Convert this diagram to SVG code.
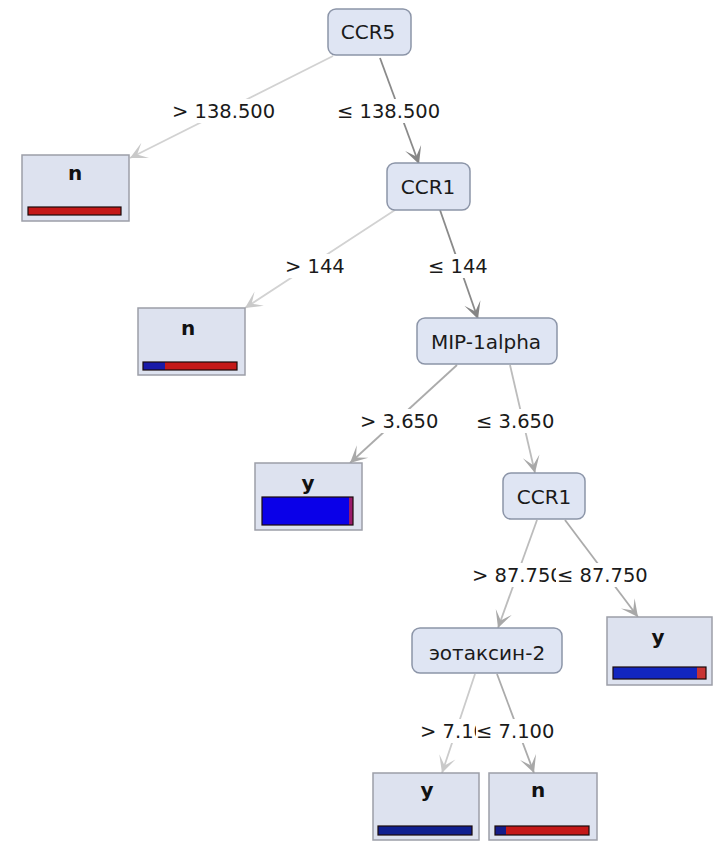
<svg xmlns="http://www.w3.org/2000/svg" width="716" height="841" viewBox="0 0 716 841">
<style>
.node rect{fill:#dfe5f3;stroke:#8c95a8;stroke-width:1.5}
.leaf .box{fill:#dde2ef;stroke:#9c9ea8;stroke-width:1.5}
.nt{font-family:"DejaVu Sans",sans-serif;font-size:20px;fill:#1a1a1a;text-anchor:middle}
.lt{font-family:"DejaVu Sans",sans-serif;font-size:20px;font-weight:bold;fill:#111;text-anchor:middle}
.el{font-family:"DejaVu Sans",sans-serif;font-size:19.5px;fill:#1a1a1a}
.lbg{fill:#ffffff}
.e{fill:none;stroke-width:1.8}
.bar{stroke:#1a0a0a;stroke-width:1.2}
</style>
<defs>
<marker id="aL" viewBox="-19 -10 21 20" markerWidth="21" markerHeight="20" refX="0" refY="0" orient="auto" markerUnits="userSpaceOnUse"><path d="M-17,-8.5 L0,0 L-17,8.5 L-8,0 z" fill="#c9c9c9"/></marker>
<marker id="aM" viewBox="-19 -10 21 20" markerWidth="21" markerHeight="20" refX="0" refY="0" orient="auto" markerUnits="userSpaceOnUse"><path d="M-17,-8.5 L0,0 L-17,8.5 L-8,0 z" fill="#a8a8a8"/></marker>
<marker id="aD" viewBox="-19 -10 21 20" markerWidth="21" markerHeight="20" refX="0" refY="0" orient="auto" markerUnits="userSpaceOnUse"><path d="M-17,-8.5 L0,0 L-17,8.5 L-8,0 z" fill="#858585"/></marker>
</defs>
<rect width="716" height="841" fill="#ffffff"/>
<g id="connectors">
<line class="e" x1="333" y1="56" x2="130" y2="158" stroke="#d2d2d2" marker-end="url(#aL)"/>
<line class="e" x1="380" y1="58" x2="419" y2="164" stroke="#8a8a8a" marker-end="url(#aD)"/>
<line class="e" x1="395" y1="210" x2="245" y2="308" stroke="#d2d2d2" marker-end="url(#aL)"/>
<line class="e" x1="440" y1="210" x2="478" y2="319" stroke="#8a8a8a" marker-end="url(#aD)"/>
<line class="e" x1="457" y1="365" x2="350" y2="463" stroke="#ababab" marker-end="url(#aM)"/>
<line class="e" x1="510" y1="365" x2="535" y2="473" stroke="#bcbcbc" marker-end="url(#aM)"/>
<line class="e" x1="537" y1="520" x2="498" y2="628" stroke="#bcbcbc" marker-end="url(#aM)"/>
<line class="e" x1="565" y1="520" x2="638" y2="617" stroke="#ababab" marker-end="url(#aM)"/>
<line class="e" x1="475" y1="674" x2="442" y2="773" stroke="#cbcbcb" marker-end="url(#aL)"/>
<line class="e" x1="497" y1="674" x2="534" y2="773" stroke="#ababab" marker-end="url(#aM)"/>
<g id="edge-labels">
<rect class="lbg" x="170" y="99" width="108" height="24"/><text class="el" x="172" y="118">&gt; 138.500</text>
<rect class="lbg" x="335" y="99" width="108" height="24"/><text class="el" x="337" y="118">≤ 138.500</text>
<rect class="lbg" x="283" y="254" width="62" height="24"/><text class="el" x="285" y="273">&gt; 144</text>
<rect class="lbg" x="426" y="254" width="64" height="24"/><text class="el" x="428" y="273">≤ 144</text>
<rect class="lbg" x="358" y="409" width="80" height="24"/><text class="el" x="360" y="428">&gt; 3.650</text>
<rect class="lbg" x="474" y="409" width="82" height="24"/><text class="el" x="476" y="428">≤ 3.650</text>
<rect class="lbg" x="470" y="563" width="96" height="24"/><text class="el" x="472" y="582">&gt; 87.750</text>
<rect class="lbg" x="556" y="563" width="98" height="24"/><text class="el" x="557" y="582">≤ 87.750</text>
<rect class="lbg" x="418" y="719" width="84" height="24"/><text class="el" x="420" y="738">&gt; 7.100</text>
<rect class="lbg" x="476" y="719" width="82" height="24"/><text class="el" x="476" y="738">≤ 7.100</text>
</g>
</g>
<g id="node-ccr5" class="node"><rect x="328" y="9" width="83" height="46" rx="8"/><text class="nt" x="368" y="39">CCR5</text></g>
<g id="node-ccr1a" class="node"><rect x="387" y="163" width="83" height="47" rx="8"/><text class="nt" x="428" y="194">CCR1</text></g>
<g id="node-mip" class="node"><rect x="417" y="318" width="140" height="46" rx="8"/><text class="nt" x="486" y="349">MIP-1alpha</text></g>
<g id="node-ccr1b" class="node"><rect x="503" y="473" width="82" height="46" rx="8"/><text class="nt" x="544" y="504">CCR1</text></g>
<g id="node-eot" class="node"><rect x="412" y="628" width="150" height="45" rx="8"/><text class="nt" x="487" y="660">эотаксин-2</text></g>
<g id="leaf-n1" class="leaf"><rect class="box" x="22" y="155" width="107" height="66"/><text class="lt" x="75" y="180">n</text><rect class="bar" x="28" y="207" width="93" height="8" fill="#c41818"/></g>
<g id="leaf-n2" class="leaf"><rect class="box" x="138" y="308" width="107" height="67"/><text class="lt" x="188" y="335">n</text><rect x="143" y="362" width="94" height="8" fill="#c41818"/><rect x="143" y="362" width="22" height="8" fill="#1a1aa8"/><rect class="bar" x="143" y="362" width="94" height="8" fill="none"/></g>
<g id="leaf-y1" class="leaf"><rect class="box" x="255" y="463" width="107" height="67"/><text class="lt" x="308" y="490">y</text><rect x="262" y="497" width="91" height="28" fill="#0a00e8"/><rect x="349" y="497" width="4" height="28" fill="#9a1a6a"/><rect class="bar" x="262" y="497" width="91" height="28" fill="none"/></g>
<g id="leaf-y2" class="leaf"><rect class="box" x="607" y="617" width="105" height="68"/><text class="lt" x="658" y="644">y</text><rect x="613" y="667" width="84" height="12" fill="#1226c0"/><rect x="697" y="667" width="9" height="12" fill="#c83434"/><rect class="bar" x="613" y="667" width="93" height="12" fill="none"/></g>
<g id="leaf-y3" class="leaf"><rect class="box" x="373" y="773" width="106" height="67"/><text class="lt" x="427" y="797">y</text><rect class="bar" x="378" y="826" width="94" height="9" fill="#0f1f90"/></g>
<g id="leaf-n3" class="leaf"><rect class="box" x="489" y="773" width="108" height="67"/><text class="lt" x="538" y="797">n</text><rect x="495" y="826" width="94" height="9" fill="#c41818"/><rect x="495" y="826" width="11" height="9" fill="#141c8a"/><rect class="bar" x="495" y="826" width="94" height="9" fill="none"/></g>
</svg>
